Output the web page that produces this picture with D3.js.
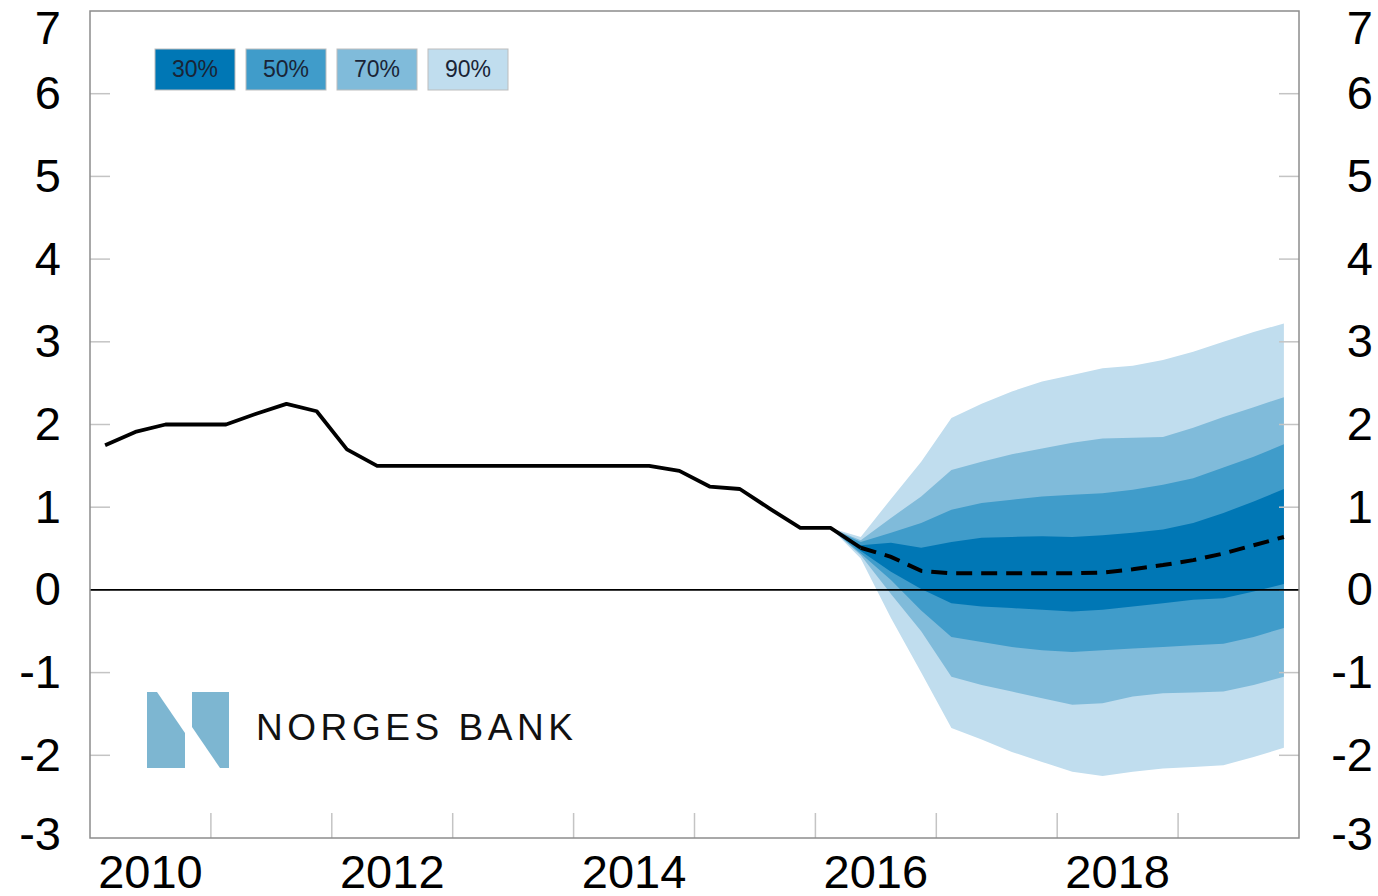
<!DOCTYPE html>
<head>
  <meta charset='utf-8'>
  <script src='https://d3js.org/d3.v7.min.js'></script>
  <style>
    body { margin: 0; background: #fff; }
    text { font-family: 'Liberation Sans', Arial, sans-serif; }
  </style>
</head>

<body>
  <script>

// policy rate, quarterly, 2010Q1 - 2016Q1
const histQuarters = ['2010Q1','2010Q2','2010Q3','2010Q4','2011Q1','2011Q2','2011Q3','2011Q4',
  '2012Q1','2012Q2','2012Q3','2012Q4','2013Q1','2013Q2','2013Q3','2013Q4',
  '2014Q1','2014Q2','2014Q3','2014Q4','2015Q1','2015Q2','2015Q3','2015Q4','2016Q1'];
const histRate = [1.75, 1.91, 2.0, 2.0, 2.0, 2.13, 2.25, 2.16,
  1.70, 1.50, 1.50, 1.50, 1.50, 1.50, 1.50, 1.50,
  1.50, 1.50, 1.50, 1.44, 1.25, 1.22, 0.98, 0.75, 0.75];

// forecast + fan, 2016Q1 - 2019Q4
const fcQuarters = ['2016Q1','2016Q2','2016Q3','2016Q4','2017Q1','2017Q2','2017Q3','2017Q4',
  '2018Q1','2018Q2','2018Q3','2018Q4','2019Q1','2019Q2','2019Q3','2019Q4'];
const fcRate = [0.75, 0.51, 0.40, 0.23, 0.20, 0.20, 0.20, 0.20, 0.20, 0.21, 0.25, 0.30, 0.36, 0.44, 0.54, 0.64];
const hi90 = [0.75, 0.64, 1.10, 1.55, 2.08, 2.25, 2.40, 2.52, 2.60, 2.68, 2.71, 2.78, 2.88, 3.00, 3.12, 3.22];
const hi70 = [0.75, 0.60, 0.87, 1.13, 1.45, 1.55, 1.64, 1.71, 1.78, 1.83, 1.84, 1.85, 1.96, 2.09, 2.21, 2.33];
const hi50 = [0.75, 0.58, 0.69, 0.81, 0.97, 1.05, 1.09, 1.13, 1.15, 1.17, 1.21, 1.27, 1.35, 1.48, 1.61, 1.76];
const hi30 = [0.75, 0.54, 0.57, 0.51, 0.58, 0.63, 0.64, 0.65, 0.64, 0.66, 0.69, 0.73, 0.81, 0.93, 1.07, 1.22];
const lo30 = [0.75, 0.47, 0.22, 0.01, -0.16, -0.20, -0.22, -0.24, -0.26, -0.24, -0.20, -0.16, -0.12, -0.10, -0.02, 0.07];
const lo50 = [0.75, 0.44, 0.12, -0.25, -0.57, -0.63, -0.69, -0.73, -0.75, -0.73, -0.71, -0.69, -0.67, -0.65, -0.57, -0.46];
const lo70 = [0.75, 0.42, -0.05, -0.50, -1.05, -1.15, -1.23, -1.31, -1.39, -1.37, -1.29, -1.25, -1.24, -1.23, -1.15, -1.05];
const lo90 = [0.75, 0.38, -0.34, -1.00, -1.67, -1.81, -1.96, -2.08, -2.20, -2.25, -2.20, -2.16, -2.14, -2.12, -2.02, -1.91];

const bandNames = ['90%', '70%', '50%', '30%'];
const bandColors = ['#c0ddee', '#80bbda', '#409cca', '#0077b5'];
const legendNames = ['30%', '50%', '70%', '90%'];
const legendColors = ['#0077b5', '#409cca', '#80bbda', '#c0ddee'];

const yTicks = [-3, -2, -1, 0, 1, 2, 3, 4, 5, 6, 7];
const yearTicks = [2011, 2012, 2013, 2014, 2015, 2016, 2017, 2018, 2019];
const yearLabels = [2010, 2012, 2014, 2016, 2018];

const width = 1378, height = 896;
const plotL = 90, plotR = 1299, plotT = 11, plotB = 838;

const svg = d3.select('body').append('svg').attr('width', width).attr('height', height);

const x = d3.scaleLinear().domain([2010, 2020]).range([plotL, plotR]);
const y = d3.scaleLinear().domain([-3, 7]).range([plotB, plotT]);

// 'YYYYQn' -> mid-quarter position
const qx = q => x(+q.slice(0, 4) + (+q.slice(5) - 0.5) / 4);

// fan
const fan = fcQuarters.map((q, i) => ({
  q: q,
  bands: [[lo90[i], hi90[i]], [lo70[i], hi70[i]], [lo50[i], hi50[i]], [lo30[i], hi30[i]]]
}));

bandNames.forEach((b, k) => {
  svg.append('path')
    .datum(fan)
    .attr('fill', bandColors[k])
    .attr('d', d3.area()
      .x(d => qx(d.q))
      .y0(d => y(d.bands[k][0]))
      .y1(d => y(d.bands[k][1])));
});

// ticks (inside)
const tickColor = '#c4c4c4';
svg.append('g').selectAll('line')
  .data(yTicks.slice(1, -1))
  .enter().append('line')
  .attr('x1', plotL).attr('x2', plotL + 20)
  .attr('y1', d => y(d)).attr('y2', d => y(d))
  .attr('stroke', tickColor).attr('stroke-width', 1.5);
svg.append('g').selectAll('line')
  .data(yTicks.slice(1, -1))
  .enter().append('line')
  .attr('x1', plotR - 20).attr('x2', plotR)
  .attr('y1', d => y(d)).attr('y2', d => y(d))
  .attr('stroke', tickColor).attr('stroke-width', 1.5);
svg.append('g').selectAll('line')
  .data(yearTicks)
  .enter().append('line')
  .attr('x1', d => x(d)).attr('x2', d => x(d))
  .attr('y1', plotB - 25).attr('y2', plotB)
  .attr('stroke', tickColor).attr('stroke-width', 1.5);

// zero line
svg.append('line')
  .attr('x1', plotL).attr('x2', plotR)
  .attr('y1', y(0)).attr('y2', y(0))
  .attr('stroke', '#000').attr('stroke-width', 1.8);

// frame
svg.append('rect')
  .attr('x', plotL).attr('y', plotT)
  .attr('width', plotR - plotL).attr('height', plotB - plotT)
  .attr('fill', 'none').attr('stroke', '#8c8c8c').attr('stroke-width', 1.5);

// lines: solid history (runs into first forecast quarter), dashed forecast
const solid = histQuarters.map((q, i) => [qx(q), y(histRate[i])])
  .concat([[qx(fcQuarters[1]), y(fcRate[1])]]);
svg.append('path')
  .datum(solid)
  .attr('fill', 'none').attr('stroke', '#000').attr('stroke-width', 3.8)
  .attr('stroke-linejoin', 'round')
  .attr('d', d3.line());

svg.append('path')
  .datum(fcQuarters.slice(1).map((q, i) => [qx(q), y(fcRate[i + 1])]))
  .attr('fill', 'none').attr('stroke', '#000').attr('stroke-width', 4)
  .attr('stroke-dasharray', '16,9')
  .attr('d', d3.line());

// y labels both sides
const labY = v => Math.min(Math.max(y(v), 28), 834);
[61, 1373].forEach(lx => {
  svg.append('g').selectAll('text')
    .data(yTicks)
    .enter().append('text')
    .attr('x', lx)
    .attr('y', d => labY(d))
    .attr('dy', '0.33em')
    .attr('text-anchor', 'end')
    .attr('font-size', 47)
    .attr('fill', '#000')
    .text(d => d);
});

// x labels
svg.append('g').selectAll('text')
  .data(yearLabels)
  .enter().append('text')
  .attr('x', d => x(d + 0.5))
  .attr('y', 888)
  .attr('text-anchor', 'middle')
  .attr('font-size', 47)
  .attr('fill', '#000')
  .text(d => d);

// legend
const legend = svg.append('g').selectAll('g')
  .data(legendNames)
  .enter().append('g')
  .attr('transform', (d, i) => 'translate(' + (155 + i * 91) + ',49)');
legend.append('rect')
  .attr('width', 80).attr('height', 41)
  .attr('fill', (d, i) => legendColors[i])
  .attr('stroke', '#bdbdbd').attr('stroke-width', 1);
legend.append('text')
  .attr('x', 40).attr('y', 20)
  .attr('dy', '0.36em')
  .attr('text-anchor', 'middle')
  .attr('font-size', 23)
  .attr('fill', '#1a2436')
  .text(d => d);

// Norges Bank logo
const logo = svg.append('g').attr('fill', '#7db6d1');
logo.append('polygon').attr('points', '147,692 157,692 185,733 185,768 147,768');
logo.append('polygon').attr('points', '192,692 229,692 229,768 220,768 192,727');
svg.append('text')
  .attr('x', 256).attr('y', 740)
  .attr('font-family', "'Open Sans', sans-serif")
  .attr('font-size', 37)
  .attr('fill', '#111')
  .attr('textLength', 317)
  .attr('lengthAdjust', 'spacing')
  .text('NORGES BANK');

  </script>
</body>
